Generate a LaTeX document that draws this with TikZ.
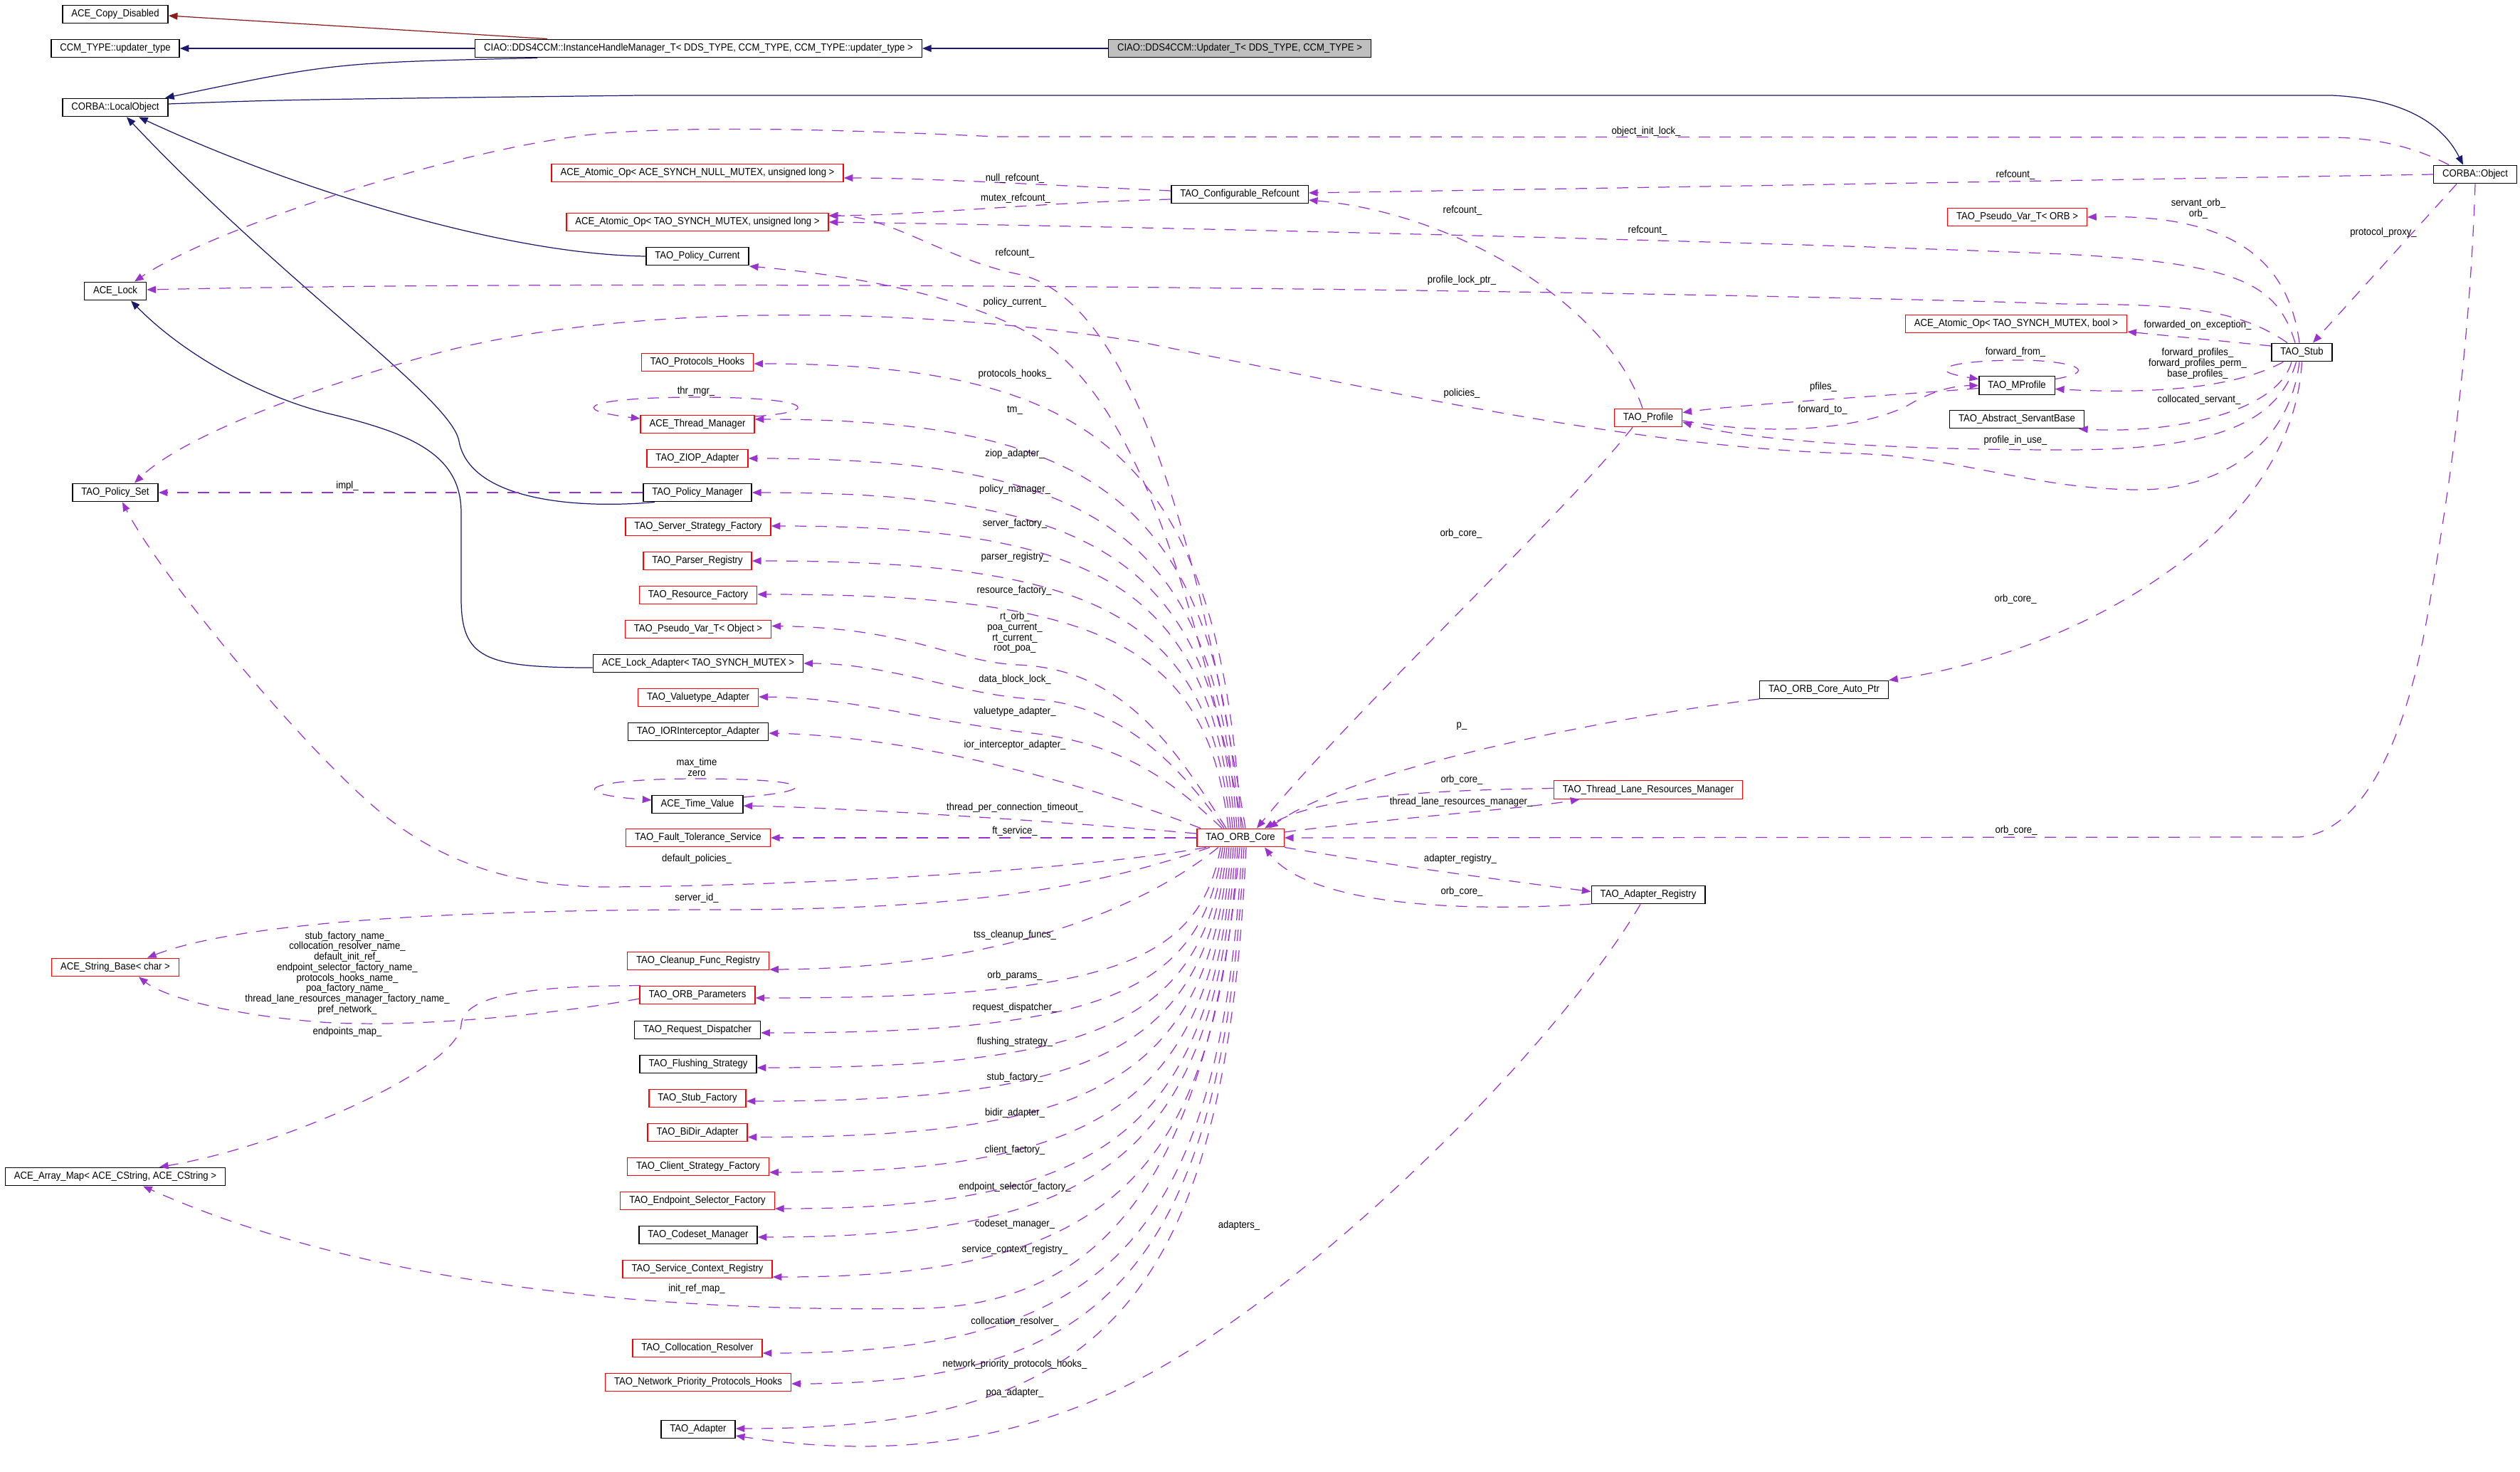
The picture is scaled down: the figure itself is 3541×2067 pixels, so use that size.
\documentclass[tikz,border=0pt]{standalone}
\usepackage{fontspec}
\setmainfont{Liberation Sans}[FakeStretch=0.91]
\usepackage{xcolor}
\usepackage{tikz}
\usetikzlibrary{arrows.meta}

\definecolor{navyline}{HTML}{191970}
\definecolor{redline}{HTML}{8B1A1A}
\definecolor{useline}{HTML}{9A32CD}
\definecolor{greyfill}{HTML}{BFBFBF}

\newcommand{\dgfont}{\fontsize{4.1}{4.2}\selectfont}

\tikzset{
  cls/.style={draw=black, line width=0.4pt, inner xsep=1.25mm, inner ysep=0pt, minimum height=2.55mm, font=\dgfont},
  clsr/.style={cls, draw=red},
  clsg/.style={cls, fill=greyfill},
  inh/.style={draw=navyline, line width=0.35pt, -{Triangle[length=3.6pt,width=2.8pt]}},
  inhr/.style={inh, draw=redline},
  use/.style={draw=useline, line width=0.35pt, dash pattern=on 1.6mm off 1.3mm, -{Triangle[length=3.6pt,width=2.8pt]}},
  lbl/.style={font=\dgfont, inner sep=0pt, align=center}
}

\begin{document}
\begin{tikzpicture}[x=0.1mm,y=-0.1mm]
      \path[use as bounding box, fill=white] (0,0) rectangle (3541,2067);

      \node[cls] (cd) at (162,20) {ACE\_Copy\_Disabled};
      \node[cls] (ccm) at (162,68) {CCM\_TYPE::updater\_type};
      \node[cls] (lobj) at (162,151) {CORBA::LocalObject};
      \node[cls] (lock) at (162,409) {ACE\_Lock};
      \node[cls] (pset) at (162,692) {TAO\_Policy\_Set};
      \node[clsr] (strb) at (162,1359) {ACE\_String\_Base< char >};
      \node[cls] (amap) at (162,1653) {ACE\_Array\_Map< ACE\_CString, ACE\_CString >};

      \node[cls] (ihm) at (981.5,68) {CIAO::DDS4CCM::InstanceHandleManager\_T< DDS\_TYPE, CCM\_TYPE, CCM\_TYPE::updater\_type >};
      \node[clsg] (upd) at (1742,68) {CIAO::DDS4CCM::Updater\_T< DDS\_TYPE, CCM\_TYPE >};
      \node[clsr] (anull) at (980,243) {ACE\_Atomic\_Op< ACE\_SYNCH\_NULL\_MUTEX, unsigned long >};
      \node[clsr] (aul) at (980,312) {ACE\_Atomic\_Op< TAO\_SYNCH\_MUTEX, unsigned long >};
      \node[cls] (pcur) at (980,360) {TAO\_Policy\_Current};
      \node[clsr] (phooks) at (980,509) {TAO\_Protocols\_Hooks};
      \node[clsr] (thrm) at (980,596) {ACE\_Thread\_Manager};
      \node[clsr] (ziop) at (980,644) {TAO\_ZIOP\_Adapter};
      \node[cls] (pmgr) at (980,692) {TAO\_Policy\_Manager};
      \node[clsr] (ssf) at (981,740) {TAO\_Server\_Strategy\_Factory};
      \node[clsr] (preg) at (980,788) {TAO\_Parser\_Registry};
      \node[clsr] (rfac) at (981,836) {TAO\_Resource\_Factory};
      \node[clsr] (pvobj) at (981,884) {TAO\_Pseudo\_Var\_T< Object >};
      \node[cls] (ladp) at (981,932) {ACE\_Lock\_Adapter< TAO\_SYNCH\_MUTEX >};
      \node[clsr] (vadp) at (981,980) {TAO\_Valuetype\_Adapter};
      \node[cls] (iora) at (981,1028) {TAO\_IORInterceptor\_Adapter};
      \node[cls] (tval) at (980,1130) {ACE\_Time\_Value};
      \node[clsr] (fts) at (981,1177) {TAO\_Fault\_Tolerance\_Service};
      \node[clsr] (cfr) at (981,1350) {TAO\_Cleanup\_Func\_Registry};
      \node[clsr] (opar) at (980,1398) {TAO\_ORB\_Parameters};
      \node[cls] (rdis) at (980,1447) {TAO\_Request\_Dispatcher};
      \node[cls] (fstr) at (981,1495) {TAO\_Flushing\_Strategy};
      \node[clsr] (sfac) at (980,1543) {TAO\_Stub\_Factory};
      \node[clsr] (bidir) at (980,1591) {TAO\_BiDir\_Adapter};
      \node[clsr] (csf) at (981,1639) {TAO\_Client\_Strategy\_Factory};
      \node[clsr] (esf) at (980,1687) {TAO\_Endpoint\_Selector\_Factory};
      \node[cls] (csm) at (981,1735) {TAO\_Codeset\_Manager};
      \node[clsr] (scr) at (980,1783) {TAO\_Service\_Context\_Registry};
      \node[clsr] (colr) at (980,1894) {TAO\_Collocation\_Resolver};
      \node[clsr] (nph) at (981,1942) {TAO\_Network\_Priority\_Protocols\_Hooks};
      \node[cls] (adp) at (981,2008) {TAO\_Adapter};

      \node[cls] (cref) at (1742,273) {TAO\_Configurable\_Refcount};
      \node[clsr] (core) at (1743,1177) {TAO\_ORB\_Core};
      \node[clsr] (prof) at (2316,587) {TAO\_Profile};
      \node[clsr] (tlrm) at (2316,1109.5) {TAO\_Thread\_Lane\_Resources\_Manager};
      \node[cls] (areg) at (2316,1257) {TAO\_Adapter\_Registry};
      \node[cls] (aptr) at (2563,969) {TAO\_ORB\_Core\_Auto\_Ptr};
      \node[clsr] (pvorb) at (2834.5,305) {TAO\_Pseudo\_Var\_T< ORB >};
      \node[clsr] (abool) at (2833,455) {ACE\_Atomic\_Op< TAO\_SYNCH\_MUTEX, bool >};
      \node[cls] (mprof) at (2834,541.5) {TAO\_MProfile};
      \node[cls] (asb) at (2834,589) {TAO\_Abstract\_ServantBase};
      \node[cls] (stub) at (3234.5,495) {TAO\_Stub};
      \node[cls] (cobj) at (3478,245) {CORBA::Object};

      \draw[inhr] ([xshift=-21.25mm]ihm.north) -- ([yshift=-0.2mm]cd.east);
      \draw[inh] (ihm.west) -- (ccm.east);
      \draw[inh] (upd.west) -- (ihm.east);
      \draw[inh] ([xshift=-22.65mm]ihm.south) .. controls (470,88) .. ([xshift=7mm]lobj.north);
      \draw[inh] ([yshift=0.5mm]lobj.east) .. controls (400,140) .. (900,134) -- (3277,134) .. controls (3400,140) and (3440,190) .. ([xshift=-1.7mm]cobj.north);
      \draw[inh] (pcur.west) .. controls (700,357) and (400,260) .. ([xshift=3.3mm]lobj.south);
      \draw[inh] ([xshift=-6mm]pmgr.south) .. controls (800,716) and (660,700) .. (645,620) .. controls (635,560) and (400,400) .. ([xshift=1.6mm]lobj.south);
      \draw[inh] ([yshift=-0.6mm]ladp.west) .. controls (680,938) and (648,925) .. (648,840) -- (648,720) .. controls (648,640) and (580,610) .. (470,583) .. controls (370,560) and (260,500) .. ([xshift=2.2mm]lock.south);

      \draw[use] ([xshift=-3.7mm]cobj.north) .. controls (3380,200) and (3320,193) .. (3271,193) -- (1400,192) .. controls (1200,183) and (1000,176) .. (850,187) .. controls (650,205) and (300,320) .. ([xshift=2.7mm]lock.north);
      \draw[use] (cobj.west) .. controls (3000,252) and (2400,262) .. ([yshift=0.2mm]cref.east);
      \draw[use] ([xshift=-2.6mm]cobj.south) -- ([xshift=1.55mm]stub.north);
      \draw[use] (cobj.south) .. controls (3470,500) and (3440,700) .. (3410,870) .. controls (3380,1040) and (3320,1170) .. (3230,1176) -- (core.east);

      \draw[use] ([yshift=0.5mm]cref.west) .. controls (1450,259) and (1300,250) .. ([yshift=-0.7mm]anull.east);
      \draw[use] ([yshift=-0.7mm]cref.west) .. controls (1450,285) and (1300,302) .. ([yshift=0.9mm]aul.east);
      \draw[use] ([xshift=-0.8mm]prof.north) .. controls (2260,430) and (2050,300) .. ([yshift=-0.8mm]cref.east);
      \draw[use] ([xshift=-2.2mm]prof.south) .. controls (2200,720) and (1900,1000) .. ([xshift=2.3mm]core.north);

      \draw[use] ([xshift=-0.35mm]stub.north) .. controls (3215,360) and (3130,300) .. (pvorb.east);
      \draw[use] ([xshift=-0.95mm]stub.north) .. controls (3200,400) and (3150,370) .. (2900,357) .. controls (2500,340) and (1600,318) .. (aul.east);
      \draw[use] ([xshift=-2.05mm]stub.north) .. controls (3140,430) and (3050,428) .. (2900,427) .. controls (2400,410) and (1000,390) .. ([yshift=0.2mm]lock.east);
      \draw[use] ([yshift=0.9mm]stub.west) -- ([yshift=-1.1mm]abool.east);
      \draw[use] ([xshift=-2.6mm]stub.south) .. controls (3150,540) and (3050,555) .. ([yshift=-0.5mm]mprof.east);
      \draw[use] ([xshift=-1.45mm]stub.south) .. controls (3200,580) and (3050,610) .. ([xshift=8.7mm]asb.south);
      \draw[use] ([xshift=-0.8mm]stub.south) .. controls (3200,600) and (3100,632) .. (2900,632) .. controls (2650,632) and (2450,618) .. ([yshift=-0.6mm]prof.east);
      \draw[use] ([xshift=-0.35mm]stub.south) .. controls (3215,640) and (3100,690) .. (3000,688) .. controls (2850,686) and (2750,640) .. (2600,637) .. controls (2300,630) and (1900,540) .. (1600,480) .. controls (1250,425) and (850,430) .. (600,500) .. controls (450,542) and (260,610) .. ([xshift=2.7mm]pset.north);
      \draw[use] (stub.south) .. controls (3220,760) and (2900,920) .. (aptr.north east);

      \draw[use] ([yshift=-0.4mm]mprof.west) .. controls (2650,556) and (2450,568) .. ([yshift=0.75mm]prof.east);
      \draw[use] ([yshift=-0.4mm]prof.east) .. controls (2500,615) and (2620,600) .. (2680,570) .. controls (2710,552) and (2740,542) .. (mprof.west);
      \draw[use] ([yshift=0.9mm]mprof.east) .. controls (2960,520) and (2900,505) .. (2830,506) .. controls (2740,507) and (2700,520) .. ([yshift=0.9mm]mprof.west);

      \draw[use] ([yshift=-1.3mm]aptr.west) .. controls (2250,1010) and (1900,1080) .. ([xshift=4mm]core.north);
      \draw[use] ([yshift=0.2mm]tlrm.west) .. controls (2000,1110) and (1850,1120) .. ([xshift=3.4mm]core.north);
      \draw[use] ([yshift=0.8mm]core.east) .. controls (1950,1150) and (2150,1135) .. ([xshift=-9.65mm]tlrm.south);
      \draw[use] (core.south east) .. controls (1950,1215) and (2100,1235) .. ([yshift=0.45mm]areg.west);
      \draw[use] ([yshift=-1.3mm]areg.west) .. controls (2000,1285) and (1830,1260) .. ([xshift=3.4mm]core.south);
      \draw[use] ([xshift=-1.1mm]areg.south) .. controls (2200,1450) and (1900,1760) .. (1650,1910) .. controls (1450,2030) and (1250,2050) .. ([yshift=-0.9mm]adp.east);

      \draw[use] ([xshift=0.7mm]core.north) .. controls (1690,800) and (1600,420) .. (1430,385) .. controls (1328,364) and (1250,303) .. ([yshift=0.9mm]aul.east);
      \draw[use] ([xshift=0.4mm]core.north) .. controls (1680,850) and (1600,560) .. (1454,473) .. controls (1352,412) and (1180,385) .. ([yshift=-1.4mm]pcur.east);
      \draw[use] ([xshift=0.1mm]core.north) .. controls (1714,642) and (1540,511) .. ([yshift=-0.2mm]phooks.east);
      \draw[use] ([xshift=-0.2mm]core.north) .. controls (1711,704) and (1540,589) .. ([yshift=0.7mm]thrm.east);
      \draw[use] ([xshift=-0.5mm]core.north) .. controls (1708,748) and (1540,644) .. (ziop.east);
      \draw[use] ([xshift=-0.8mm]core.north) .. controls (1705,786) and (1540,692) .. (pmgr.east);
      \draw[use] ([xshift=-1.1mm]core.north) .. controls (1702,824) and (1540,739) .. ([yshift=0.1mm]ssf.east);
      \draw[use] ([xshift=-1.4mm]core.north) .. controls (1699,863) and (1540,788) .. (preg.east);
      \draw[use] ([xshift=-1.7mm]core.north) .. controls (1696,902) and (1540,835) .. ([yshift=0.1mm]rfac.east);
      \draw[use] ([xshift=-2mm]core.north) .. controls (1650,1050) and (1580,940) .. (1430,934) .. controls (1340,930) and (1280,882) .. ([yshift=0.45mm]pvobj.east);
      \draw[use] ([xshift=-2.3mm]core.north) .. controls (1660,1080) and (1580,990) .. (1450,982) .. controls (1350,976) and (1250,932) .. (ladp.east);
      \draw[use] ([xshift=-2.6mm]core.north) .. controls (1650,1100) and (1580,1045) .. (1450,1030) .. controls (1300,1013) and (1200,980) .. ([yshift=0.1mm]vadp.east);
      \draw[use] ([xshift=-5.6mm]core.north) .. controls (1550,1110) and (1300,1035) .. ([yshift=-0.2mm]iora.east);
      \draw[use] ([yshift=0.6mm]core.west) .. controls (1500,1155) and (1200,1135) .. ([yshift=-0.2mm]tval.east);
      \draw[use] (core.west) -- (fts.east);
      \draw[use] ([xshift=-4.8mm]core.south) .. controls (1500,1225) and (1100,1245) .. (850,1246) .. controls (700,1245) and (600,1200) .. (517,1126) .. controls (401,1022) and (220,800) .. ([xshift=1mm]pset.south);
      \draw[use] ([xshift=-4.3mm]core.south) .. controls (1500,1260) and (1300,1278) .. (1000,1278) .. controls (700,1278) and (350,1290) .. ([xshift=4.5mm]strb.north);

      \draw[use] ([xshift=-3.1mm]core.south) .. controls (1600,1280) and (1400,1360) .. ([yshift=-1.2mm]cfr.east);
      \draw[use] ([xshift=-2.8mm]core.south) .. controls (1685,1360) and (1540,1402) .. ([yshift=-0.4mm]opar.east);
      \draw[use] ([xshift=-2.5mm]core.south) .. controls (1688,1399) and (1540,1451) .. ([yshift=-0.4mm]rdis.east);
      \draw[use] ([xshift=-2.2mm]core.south) .. controls (1691,1438) and (1540,1500) .. ([yshift=-0.5mm]fstr.east);
      \draw[use] ([xshift=-1.9mm]core.south) .. controls (1694,1476) and (1540,1547) .. ([yshift=-0.4mm]sfac.east);
      \draw[use] ([xshift=-1.6mm]core.south) .. controls (1697,1516) and (1540,1598) .. ([yshift=-0.65mm]bidir.east);
      \draw[use] ([xshift=-1.3mm]core.south) .. controls (1700,1556) and (1540,1647) .. ([yshift=-0.8mm]csf.east);
      \draw[use] ([xshift=-1mm]core.south) .. controls (1703,1596) and (1540,1698) .. ([yshift=-1.1mm]esf.east);
      \draw[use] ([xshift=-0.7mm]core.south) .. controls (1706,1628) and (1540,1738) .. ([yshift=-0.3mm]csm.east);
      \draw[use] ([xshift=-0.4mm]core.south) .. controls (1709,1673) and (1540,1794) .. ([yshift=-1.1mm]scr.east);
      \draw[use] ([xshift=-0.1mm]core.south) .. controls (1700,1650) and (1550,1830) .. (1300,1838) .. controls (900,1845) and (500,1800) .. ([xshift=3.9mm]amap.south);
      \draw[use] ([xshift=0.2mm]core.south) .. controls (1715,1759) and (1540,1901) .. ([yshift=-0.7mm]colr.east);
      \draw[use] ([xshift=0.5mm]core.south) .. controls (1718,1793) and (1540,1944) .. ([yshift=-0.2mm]nph.east);
      \draw[use] ([xshift=0.8mm]core.south) .. controls (1721,1844) and (1540,2007) .. ([yshift=0.1mm]adp.east);

      \draw[use] ([yshift=1.1mm]thrm.east) .. controls (1160,578) and (1140,558) .. (980,558) .. controls (830,558) and (790,575) .. ([yshift=0.8mm]thrm.west);
      \draw[use] ([yshift=1mm]tval.east) .. controls (1160,1110) and (1140,1094) .. (980,1094) .. controls (820,1094) and (790,1115) .. ([yshift=0.6mm]tval.west);
      \draw[use] (pmgr.west) -- (pset.east);
      \draw[use] ([yshift=-0.5mm]opar.west) .. controls (750,1430) and (550,1445) .. (440,1435) .. controls (320,1425) and (230,1400) .. ([xshift=3.3mm]strb.south);
      \draw[use] ([xshift=-8mm]opar.north) .. controls (760,1385) and (650,1395) .. (648,1440) .. controls (645,1500) and (400,1610) .. ([xshift=6.2mm]amap.north);

      \node[lbl] (l01) at (2313,185) {object\_init\_lock\_};
      \node[lbl] (l02) at (2832,246) {refcount\_};
      \node[lbl] (l03) at (3349,327) {protocol\_proxy\_};
      \node[lbl] (l04) at (2833,1167) {orb\_core\_};
      \node[lbl] (l05) at (1426,251) {null\_refcount\_};
      \node[lbl] (l06) at (1427,279) {mutex\_refcount\_};
      \node[lbl] (l07) at (2055,296) {refcount\_};
      \node[lbl] (l08) at (2053,750) {orb\_core\_};
      \node[lbl] (l09) at (3089,293) {servant\_orb\_\\orb\_};
      \node[lbl] (l10) at (2315,324) {refcount\_};
      \node[lbl] (l11) at (2054,394) {profile\_lock\_ptr\_};
      \node[lbl] (l12) at (3088,457) {forwarded\_on\_exception\_};
      \node[lbl] (l13) at (3088,511) {forward\_profiles\_\\forward\_profiles\_perm\_\\base\_profiles\_};
      \node[lbl] (l14) at (3090,562) {collocated\_servant\_};
      \node[lbl] (l15) at (2832,619) {profile\_in\_use\_};
      \node[lbl] (l16) at (2054,553) {policies\_};
      \node[lbl] (l17) at (2832,842) {orb\_core\_};
      \node[lbl] (l18) at (2562,544) {pfiles\_};
      \node[lbl] (l19) at (2561,576) {forward\_to\_};
      \node[lbl] (l20) at (2832,495) {forward\_from\_};
      \node[lbl] (l21) at (2054,1020) {p\_};
      \node[lbl] (l22) at (2054,1096) {orb\_core\_};
      \node[lbl] (l23) at (2053,1127) {thread\_lane\_resources\_manager\_};
      \node[lbl] (l24) at (2052,1207) {adapter\_registry\_};
      \node[lbl] (l25) at (2054,1253) {orb\_core\_};
      \node[lbl] (l26) at (1741,1722) {adapters\_};

      \node[lbl] (m01) at (1426,356) {refcount\_};
      \node[lbl] (m02) at (1426,425) {policy\_current\_};
      \node[lbl] (m03) at (1426,526) {protocols\_hooks\_};
      \node[lbl] (m04) at (1426,576) {tm\_};
      \node[lbl] (m05) at (1426,638) {ziop\_adapter\_};
      \node[lbl] (m06) at (1426,688) {policy\_manager\_};
      \node[lbl] (m07) at (1426,736) {server\_factory\_};
      \node[lbl] (m08) at (1426,783) {parser\_registry\_};
      \node[lbl] (m09) at (1425,830) {resource\_factory\_};
      \node[lbl] (m10) at (1426,889) {rt\_orb\_\\poa\_current\_\\rt\_current\_\\root\_poa\_};
      \node[lbl] (m11) at (1426,954.5) {data\_block\_lock\_};
      \node[lbl] (m12) at (1426,1000) {valuetype\_adapter\_};
      \node[lbl] (m13) at (1426,1047) {ior\_interceptor\_adapter\_};
      \node[lbl] (m14) at (1426,1135) {thread\_per\_connection\_timeout\_};
      \node[lbl] (m15) at (1426,1167.5) {ft\_service\_};
      \node[lbl] (m16) at (1426,1314) {tss\_cleanup\_funcs\_};
      \node[lbl] (m17) at (1426,1371) {orb\_params\_};
      \node[lbl] (m18) at (1426,1416) {request\_dispatcher\_};
      \node[lbl] (m19) at (1426,1464) {flushing\_strategy\_};
      \node[lbl] (m20) at (1426,1514) {stub\_factory\_};
      \node[lbl] (m21) at (1426,1564) {bidir\_adapter\_};
      \node[lbl] (m22) at (1426,1616) {client\_factory\_};
      \node[lbl] (m23) at (1426,1667.5) {endpoint\_selector\_factory\_};
      \node[lbl] (m24) at (1426,1720) {codeset\_manager\_};
      \node[lbl] (m25) at (1426,1756) {service\_context\_registry\_};
      \node[lbl] (m26) at (1426,1857) {collocation\_resolver\_};
      \node[lbl] (m27) at (1426,1917) {network\_priority\_protocols\_hooks\_};
      \node[lbl] (m28) at (1426,1957) {poa\_adapter\_};

      \node[lbl] (n01) at (978,550) {thr\_mgr\_};
      \node[lbl] (n02) at (979,1078) {max\_time\\zero};
      \node[lbl] (n03) at (979,1207) {default\_policies\_};
      \node[lbl] (n04) at (979,1262) {server\_id\_};
      \node[lbl] (n05) at (979,1811) {init\_ref\_map\_};
      \node[lbl] (n06) at (488,683) {impl\_};
      \node[lbl] (n07) at (488,1367) {stub\_factory\_name\_\\collocation\_resolver\_name\_\\default\_init\_ref\_\\endpoint\_selector\_factory\_name\_\\protocols\_hooks\_name\_\\poa\_factory\_name\_\\thread\_lane\_resources\_manager\_factory\_name\_\\pref\_network\_};
      \node[lbl] (n08) at (488,1450) {endpoints\_map\_};
    \end{tikzpicture}
\end{document}
